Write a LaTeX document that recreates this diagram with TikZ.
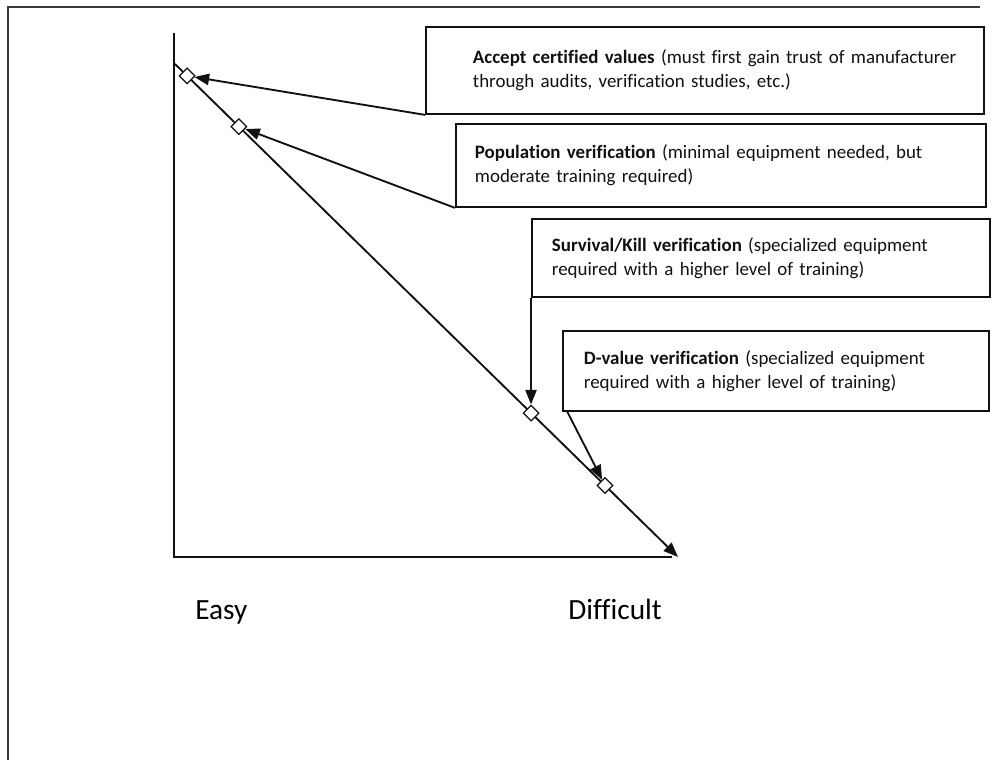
\documentclass[tikz,border=0pt]{standalone}
\usepackage{fontspec}
\setmainfont[Ligatures={NoCommon}]{Carlito}
\usepackage{tikz}
\usetikzlibrary{arrows.meta,shapes.geometric}
\definecolor{cframe}{HTML}{3A3A3A}
\definecolor{cink}{HTML}{111111}
\newdimen\pxu \pxu=0.75pt
\tikzset{
  >={Triangle[length=11pt,width=8.5pt]},
  ln/.style={line width=1.4pt,cink},
  vbox/.style n args={3}{draw,cink,line width=1.4pt,anchor=north west,align=left,
    inner xsep=3pt,inner ysep=0pt,font=\fontsize{14.2}{18}\selectfont,
    minimum width=#1*\pxu,text width=#1*\pxu-6pt,minimum height=#2*\pxu,
    execute at begin node={\leftskip=#3\pxu}},
  dmd/.style={draw,cink,fill=white,diamond,line width=0.9pt,inner sep=0pt,minimum size=12pt},
  axlbl/.style={font=\fontsize{22}{26}\selectfont,anchor=base west,inner sep=0pt},
}

\begin{document}
\begin{tikzpicture}[x=0.75pt,y=-0.75pt]
\useasboundingbox (0,0) rectangle (992,760);

% ================= frame =================
\draw[cframe,line width=1.4pt] (8,760) -- (8,7) -- (980,7);

% ================= axes =================
\coordinate (ytop) at (174,33);
\coordinate (orig) at (174,557);
\coordinate (xend) at (672,557);
\coordinate (dstart) at (175,64);
\coordinate (dend) at (678,557);
\draw[ln] (ytop) -- (orig) -- (xend);
% difficulty line with the four methods on it
\draw[ln,->] (dstart) -- (dend)
  node[dmd,pos=0.024] (d1) {}
  node[dmd,pos=0.127] (d2) {}
  node[dmd,pos=0.708] (d3) {}
  node[dmd,pos=0.855] (d4) {};

\node[axlbl] (easy) at (195,619) {Easy};
\node[axlbl] (hard) at (568,619) {Difficult};

% ================= method boxes =================
\node[vbox={558}{87}{43}] (box1) at (425,26)
  {\textbf{Accept certified values} (must first gain trust of manufacturer\\ through audits, verification studies, etc.)};
\node[vbox={530}{83}{15}] (box2) at (455,123)
  {\textbf{Population verification} (minimal equipment needed, but\\ moderate training required)};
\node[vbox={458}{78}{16}] (box3) at (531,218)
  {\textbf{Survival/Kill verification} (specialized equipment\\ required with a higher level of training)};
\node[vbox={426}{80}{17}] (box4) at (562,330)
  {\textbf{D-value verification} (specialized equipment\\ required with a higher level of training)};

% ================= pointers =================
\draw[ln,->] (box1.south west) -- (d1);
\draw[ln,->] (box2.south west) -- (d2);
\draw[ln,->] (box3.south west) -- (box3.south west |- d3.north);
\draw[ln,->] ([xshift=4pt]box4.south west) -- (d4);

\end{tikzpicture}
\end{document}
